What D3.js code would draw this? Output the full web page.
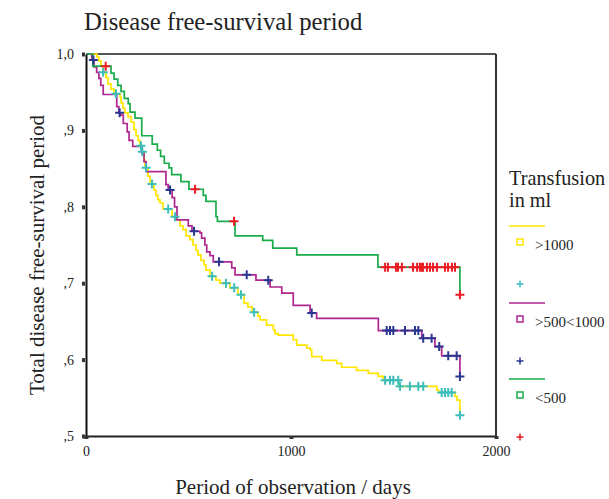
<!DOCTYPE html>
<html>
<head>
<meta charset="utf-8">
<script src="https://cdn.jsdelivr.net/npm/d3@7/dist/d3.min.js"></script>
<style>
html,body{margin:0;padding:0;background:#fff;}
svg{display:block;font-family:"Liberation Serif","Times New Roman",serif;}
</style>
</head>
<body>
<svg id="chart" width="609" height="499"></svg>
<script>
// ---- data (days, cumulative survival) ----
const groupNames = [">1000", ">500<1000", "<500"];
const xTicks = [0, 1000, 2000];
const yTicks = [0.5, 0.6, 0.7, 0.8, 0.9, 1.0];
const yTickLabels = [",5", ",6", ",7", ",8", ",9", "1,0"];

const yellowDrops = [[54,0.996],[63,0.991],[73,0.984],[83,0.976],[98,0.969],[107,0.961],[122,0.954],[137,0.948],[166,0.944],[171,0.936],[180,0.929],[190,0.923],[205,0.918],[220,0.911],[234,0.901],[244,0.893],[254,0.887],[263,0.880],[273,0.872],[283,0.861],[288,0.851],[302,0.840],[312,0.830],[332,0.822],[341,0.815],[351,0.809],[361,0.805],[376,0.797],[420,0.787],[439,0.783],[459,0.775],[473,0.770],[488,0.762],[507,0.757],[522,0.750],[537,0.743],[546,0.737],[561,0.730],[576,0.724],[585,0.717],[605,0.709],[634,0.704],[654,0.700],[702,0.694],[741,0.685],[771,0.674],[790,0.669],[810,0.662],[839,0.657],[849,0.652],[881,0.645],[914,0.639],[922,0.634],[938,0.632],[1011,0.626],[1028,0.619],[1077,0.615],[1093,0.613],[1101,0.604],[1150,0.599],[1223,0.595],[1247,0.590],[1320,0.586],[1377,0.582],[1426,0.578],[1450,0.576],[1454,0.573],[1527,0.565],[1711,0.560],[1720,0.557],[1800,0.552],[1810,0.547],[1824,0.527]];
const magentaDrops = [[28,0.992],[39,0.983],[52,0.976],[63,0.968],[72,0.959],[84,0.947],[150,0.931],[160,0.923],[169,0.920],[182,0.909],[201,0.898],[210,0.887],[228,0.879],[272,0.870],[283,0.859],[293,0.846],[390,0.829],[401,0.822],[420,0.812],[432,0.800],[444,0.783],[499,0.775],[517,0.768],[556,0.766],[564,0.759],[580,0.750],[589,0.741],[605,0.736],[621,0.728],[711,0.720],[727,0.711],[829,0.704],[898,0.695],[955,0.687],[1011,0.671],[1093,0.661],[1125,0.654],[1426,0.638],[1638,0.628],[1702,0.617],[1735,0.605],[1824,0.578]];
const greenDrops = [[33,0.984],[122,0.975],[137,0.967],[155,0.959],[171,0.951],[187,0.942],[206,0.935],[215,0.924],[239,0.916],[272,0.893],[323,0.882],[348,0.874],[364,0.866],[382,0.857],[405,0.851],[418,0.842],[463,0.833],[502,0.823],[572,0.815],[585,0.807],[634,0.787],[641,0.781],[727,0.762],[862,0.756],[911,0.746],[1028,0.737],[1424,0.721],[1824,0.685]];

const yellowCensored = [84,146,268,275,293,322,401,434,615,683,723,756,820,1459,1483,1499,1523,1532,1580,1621,1645,1735,1751,1767,1784,1824];
const magentaCensored = [36,164,410,527,649,784,889,1101,1467,1483,1499,1556,1605,1621,1645,1686,1723,1767,1808,1824];
const greenCensored = [96,532,722,1459,1473,1512,1522,1541,1595,1615,1629,1639,1644,1663,1678,1693,1712,1751,1766,1785,1800,1824];

const lineColors = ["#ffe600", "#b0268f", "#1aab4b"];
const censorColors = ["#3cbdbd", "#2b3690", "#ec1c24"];

// ---- chart ----
const svg = d3.select("#chart");
const x = d3.scaleLinear().domain([0, 2000]).range([86, 496]);
const y = d3.scaleLinear().domain([0.5, 1.0]).range([436, 54]);

const groups = [
  {drops: yellowDrops, cens: yellowCensored},
  {drops: magentaDrops, cens: magentaCensored},
  {drops: greenDrops, cens: greenCensored}
];

function survAt(drops, t) {
  let s = 1;
  for (const d of drops) { if (d[0] <= t) s = d[1]; else break; }
  return s;
}

// frame
svg.append("line").attr("x1", 86).attr("x2", 496).attr("y1", 54).attr("y2", 54)
  .attr("stroke", "#555").attr("stroke-width", 2);
svg.append("line").attr("x1", 496).attr("x2", 496).attr("y1", 54).attr("y2", 437)
  .attr("stroke", "#333").attr("stroke-width", 2);

const line = d3.line().x(d => x(d[0])).y(d => y(d[1])).curve(d3.curveStepAfter);

groups.forEach((g, i) => {
  const pts = [[0, 1]].concat(g.drops);
  svg.append("path").datum(pts).attr("d", line)
    .attr("fill", "none").attr("stroke", lineColors[i]).attr("stroke-width", 1.7);
});

const plus = "M-4.5,0H4.5M0,-4.5V4.5";
groups.forEach((g, i) => {
  svg.append("g").selectAll("path").data(g.cens).join("path")
    .attr("transform", t => `translate(${x(t)},${y(survAt(g.drops, t))})`)
    .attr("d", plus).attr("stroke", censorColors[i]).attr("stroke-width", 2).attr("fill", "none");
});

// axes
const xAxis = d3.axisBottom(x).tickValues(xTicks).tickSize(0).tickPadding(10).tickFormat(d3.format("d"));
const gx = svg.append("g").attr("transform", "translate(0,436)").call(xAxis);
gx.select(".domain").attr("stroke", "#222").attr("stroke-width", 2);
gx.selectAll("text").attr("font-size", 14).attr("font-family", "Liberation Serif").attr("fill", "#222");
gx.selectAll(".tick").append("rect").attr("x", -2).attr("y", 0).attr("width", 4).attr("height", 3).attr("fill", "#333");

const yAxis = d3.axisLeft(y).tickValues(yTicks).tickSize(0).tickPadding(12)
  .tickFormat((d, i) => yTickLabels[i]);
const gy = svg.append("g").attr("transform", "translate(86,0)").call(yAxis);
gy.select(".domain").attr("stroke", "#111").attr("stroke-width", 2);
gy.selectAll("text").attr("font-size", 14).attr("font-family", "Liberation Serif").attr("fill", "#222");
gy.selectAll(".tick").append("rect").attr("x", -4).attr("y", -2).attr("width", 3).attr("height", 4).attr("fill", "#333");

// titles
svg.append("text").attr("x", 84).attr("y", 30).attr("font-size", 24.7).attr("fill", "#222")
  .text("Disease free-survival period");
svg.append("text").attr("x", 293).attr("y", 494).attr("text-anchor", "middle").attr("font-size", 21).attr("fill", "#222")
  .text("Period of observation / days");
svg.append("text").attr("transform", "translate(44,255) rotate(-90)").attr("text-anchor", "middle")
  .attr("font-size", 21).attr("fill", "#222").text("Total disease free-survival period");

// legend
svg.append("text").attr("x", 509).attr("y", 185).attr("font-size", 20.3).attr("fill", "#222").text("Transfusion");
svg.append("text").attr("x", 509).attr("y", 207).attr("font-size", 20.3).attr("fill", "#222").text("in ml");
const legY = [226, 303, 379];
groupNames.forEach((name, i) => {
  const ly = legY[i];
  svg.append("line").attr("x1", 509).attr("x2", 545).attr("y1", ly).attr("y2", ly)
    .attr("stroke", lineColors[i]).attr("stroke-width", 1.6);
  svg.append("rect").attr("x", 517).attr("y", ly + 13).attr("width", 6).attr("height", 6)
    .attr("fill", "none").attr("stroke", lineColors[i]).attr("stroke-width", 1.5);
  svg.append("text").attr("x", 535).attr("y", ly + 24).attr("font-size", 15).attr("fill", "#222").text(name);
  svg.append("path").attr("transform", `translate(520,${ly + 58})`).attr("d", "M-3.5,0H3.5M0,-3.5V3.5")
    .attr("stroke", censorColors[i]).attr("stroke-width", 1.5).attr("fill", "none");
});
</script>
</body>
</html>
